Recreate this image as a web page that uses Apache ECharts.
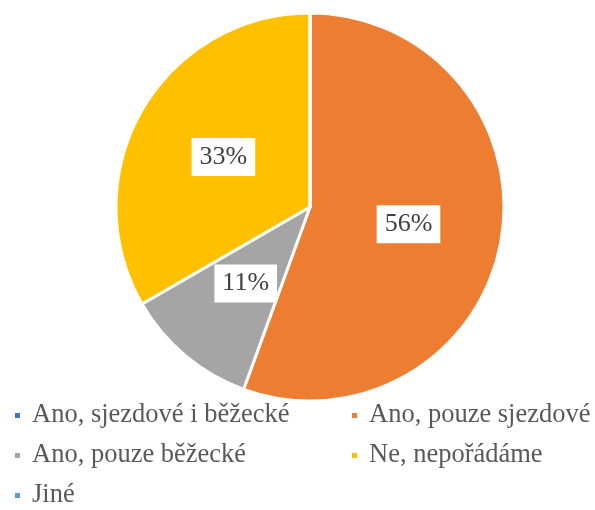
<!DOCTYPE html>
<html>
<head>
<meta charset="utf-8">
<script src="https://cdn.jsdelivr.net/npm/echarts@6/dist/echarts.min.js"></script>
<style>
  html, body { margin: 0; padding: 0; background: #fff; }
  #chart { width: 595px; height: 510px; }
</style>
</head>
<body>
<div id="chart"></div>
<script>
// data
var categories = ["Ano, sjezdové i běžecké", "Ano, pouze sjezdové", "Ano, pouze běžecké", "Ne, nepořádáme", "Jiné"];
var counts = [0, 5, 1, 3, 0];
var colors = ["#4472C4", "#ED7D31", "#A5A5A5", "#FFC000", "#5B9BD5"];

var serif = "'Liberation Serif', 'Times New Roman', serif";

var chart = echarts.init(document.getElementById("chart"));

var pieData = categories.map(function (name, i) {
  return {
    name: name,
    value: counts[i],
    itemStyle: { color: colors[i] },
    label: { show: counts[i] > 0 }
  };
});

// legend slots: two columns, three rows (x of marker, y of row centre)
var legendPos = [[13, 416], [350, 416], [13, 456], [350, 456], [13, 496]];

var legends = categories.map(function (name, i) {
  return {
    left: legendPos[i][0],
    top: legendPos[i][1] - 14,
    padding: 0,
    icon: "rect",
    itemWidth: 7,
    itemHeight: 7,
    selectedMode: false,
    data: [name],
    textStyle: {
      fontFamily: serif,
      fontSize: 26.5,
      color: "#595959",
      padding: [0, 0, 0, 6]
    }
  };
});

var option = {
  animation: false,
  legend: legends,
  series: [
    {
      type: "pie",
      center: [310, 207],
      radius: 194,
      startAngle: 90,
      clockwise: true,
      silent: true,
      itemStyle: { borderColor: "#fff", borderWidth: 3 },
      label: {
        position: "inside",
        fontFamily: serif,
        fontSize: 26,
        color: "#404040",
        backgroundColor: "#fff",
        padding: [6, 8],
        formatter: function (p) { return Math.round(p.percent) + "%"; }
      },
      labelLine: { show: false },
      data: pieData
    }
  ]
};

chart.setOption(option);
</script>
</body>
</html>
